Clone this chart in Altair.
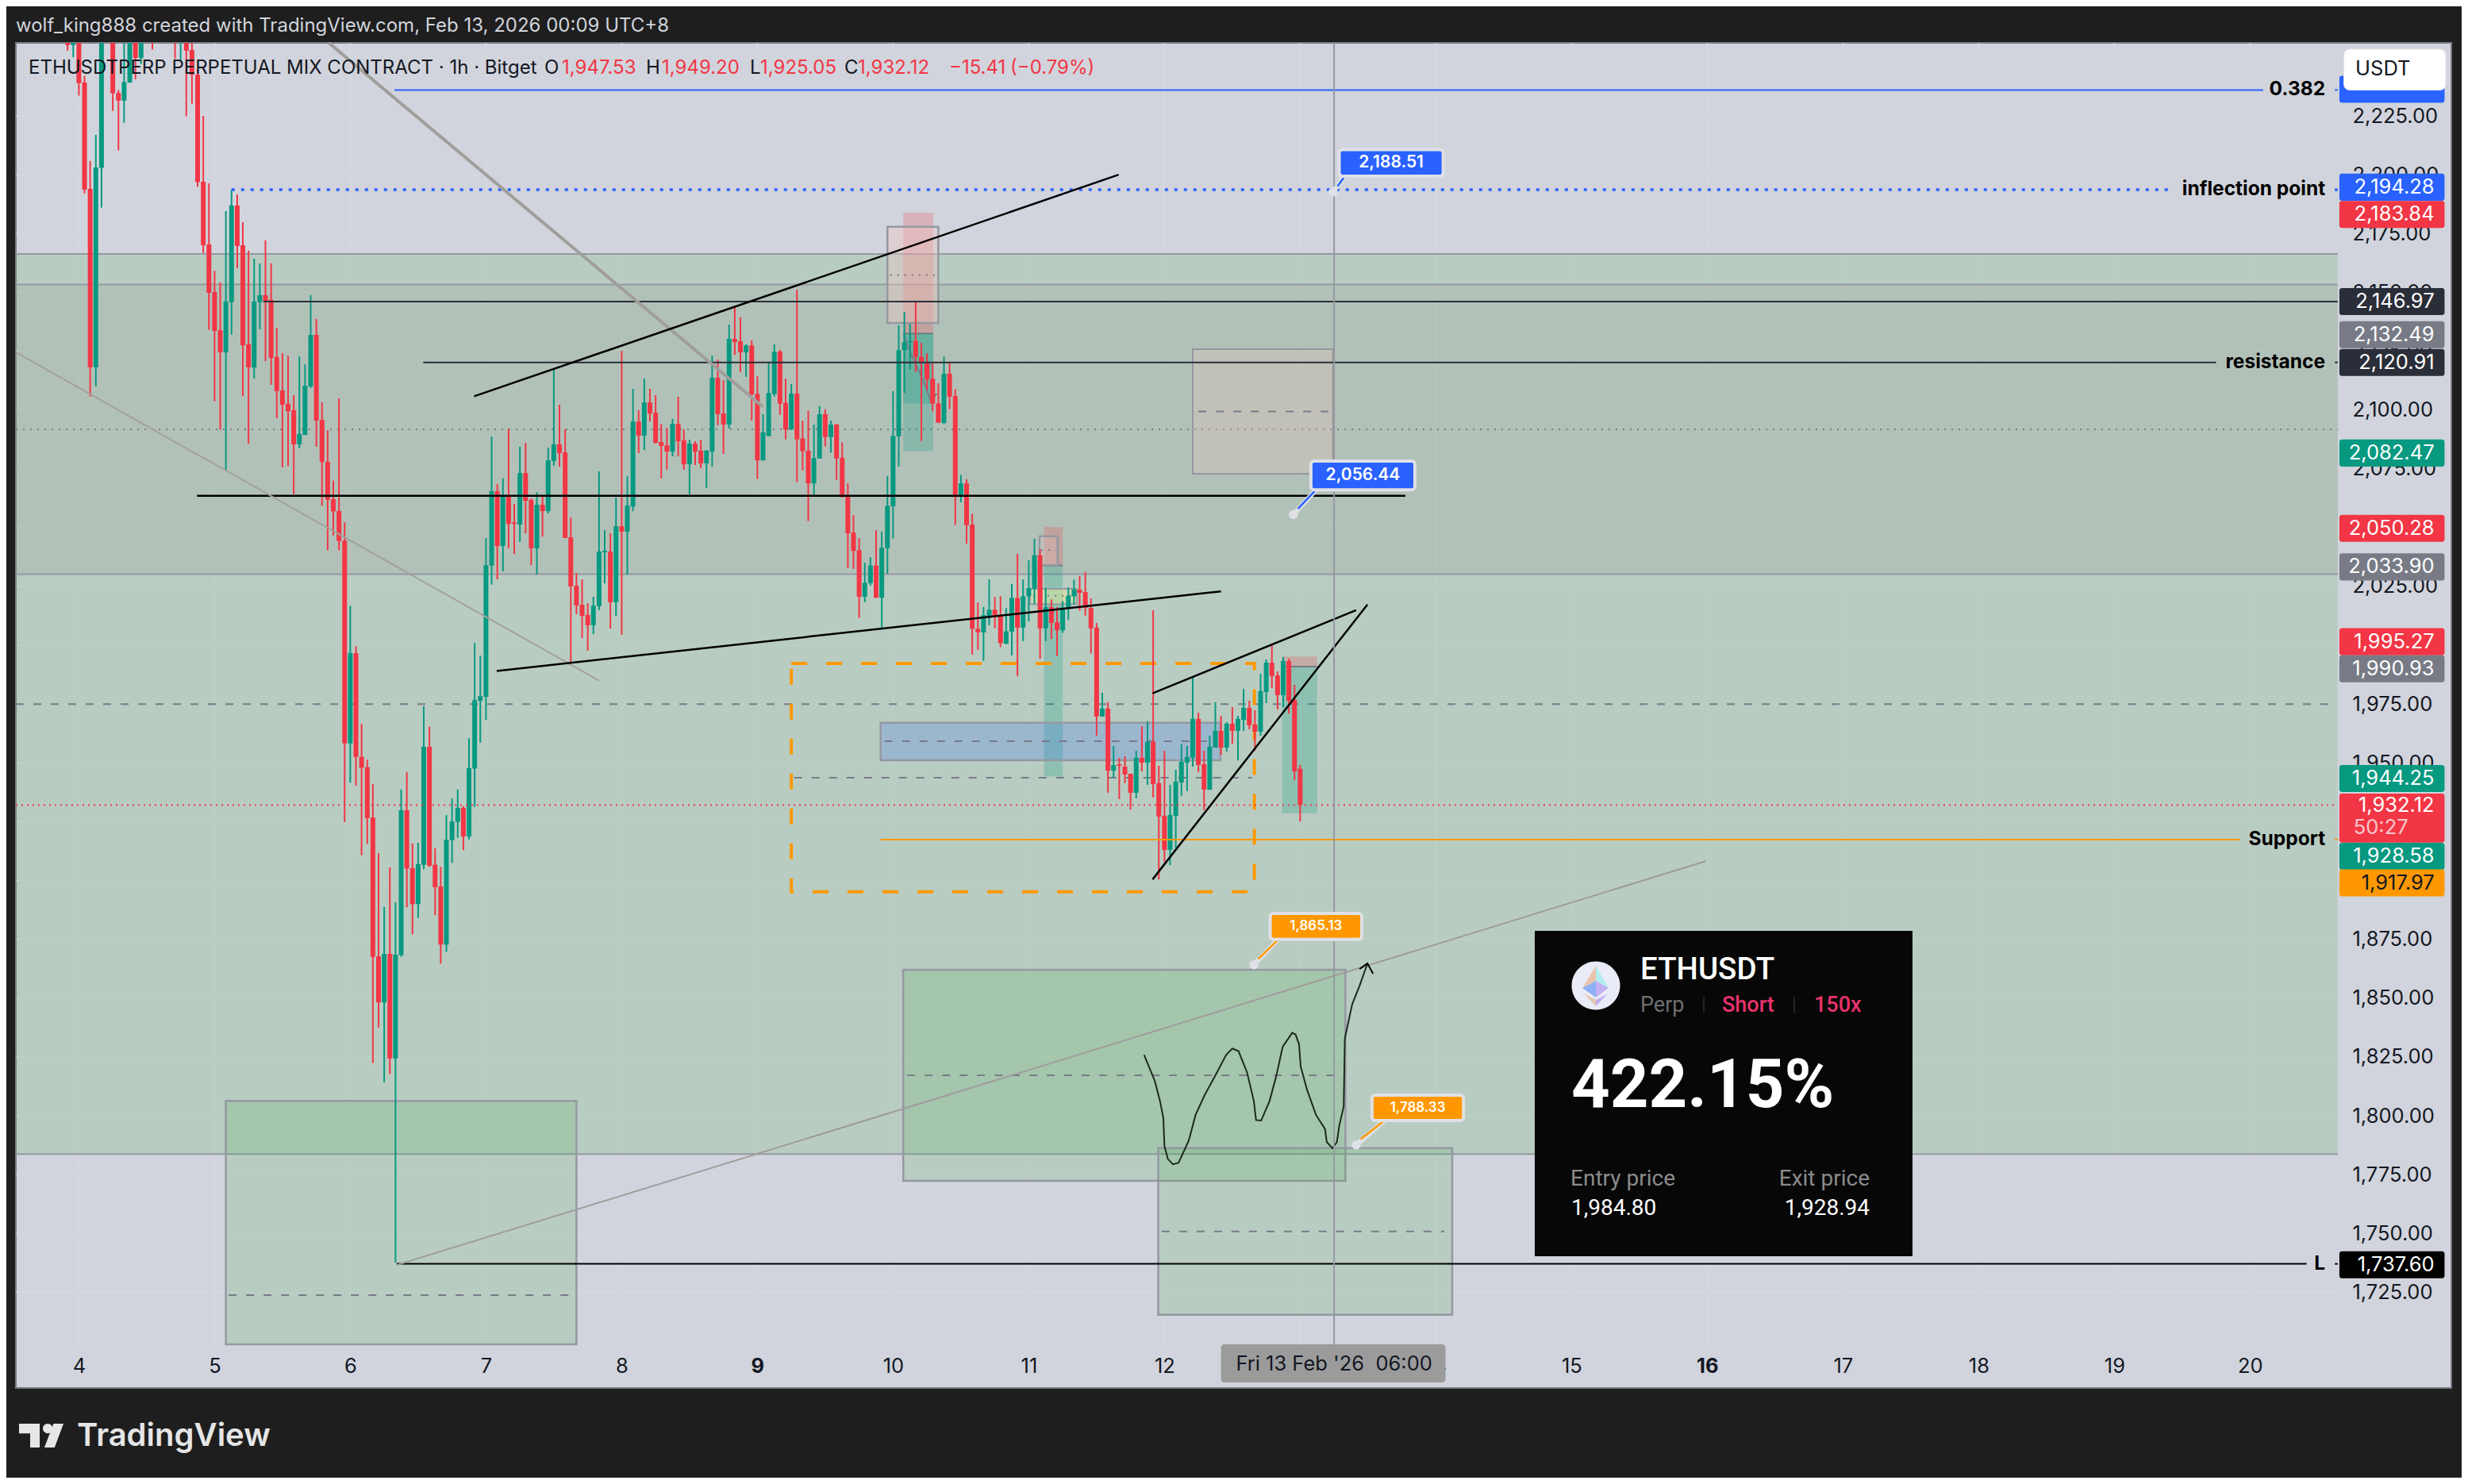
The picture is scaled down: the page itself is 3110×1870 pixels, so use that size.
import altair as alt
import pandas as pd

# hourly candles, first one is 2 hours before the "4" tick
first_hour = -2
open_ = [
    2262, 2255.1, 2262, 2239.2, 2194.0, 2118.2, 2202.9, 2275, 2268, 2234.7,
    2231.5, 2239.2, 2262, 2249.6, 2268, 2270, 2272, 2266, 2270, 2270,
    2260, 2266, 2253, 2242.5, 2197, 2170.4, 2150.1, 2133.9, 2124.5, 2145.8,
    2186.9, 2170, 2127.9, 2118.1, 2145.8, 2148.8, 2146.8, 2122.5, 2108.3, 2102.6,
    2099.9, 2085.4, 2089.4, 2110, 2131.9, 2095.8, 2077.9, 2062.1, 2057.1, 2044.5,
    1958.3, 1996.7, 1952.6, 1948.2, 1926.8, 1867.8, 1848.2, 1868.8, 1824.4, 1868.3,
    1929.9, 1905.3, 1890, 1906.7, 1956.9, 1906.7, 1897.5, 1872.8, 1917.2, 1924.9,
    1930.9, 1918.7, 1947.6, 1976.4, 1978.1, 2033.9, 2065.5, 2042.2, 2063.1, 2052.2,
    2051.3, 2073.2, 2061.8, 2041.2, 2059.7, 2057, 2078.3, 2085.4, 2082, 2045.9,
    2025.3, 2017.2, 2012.9, 2008.5, 2016.6, 2039.5, 2039.8, 2018.3, 2050.6, 2048.3,
    2059, 2095.1, 2089.1, 2103.2, 2098.9, 2086.4, 2085, 2082.3, 2094.1, 2087.1,
    2076.9, 2085.7, 2082.7, 2077.3, 2082.3, 2113.7, 2098.5, 2093.8, 2130.2, 2129.2,
    2124.5, 2127.4, 2106.8, 2078.6, 2088.9, 2106.8, 2124.8, 2103, 2091.7, 2107,
    2087.9, 2082.7, 2068.8, 2079.4, 2098.2, 2088.5, 2093.8, 2079.7, 2063.3, 2047.9,
    2040.4, 2020.6, 2026.4, 2033.9, 2020.2, 2041.2, 2059.1, 2088.8, 2125.4, 2128.8,
    2129.4, 2122.6, 2120.3, 2113.3, 2102.8, 2094.5, 2115.4, 2105.9, 2063.3, 2068.8,
    2051.3, 2007, 2005.5, 2012.4, 2015.1, 2012.4, 2000.7, 2005.8, 2020.1, 2007.5,
    2020.8, 2024.1, 2038.3, 2007.2, 2016.2, 2009.7, 2006.4, 2015.9, 2020.8, 2023.6,
    2022.6, 2015.9, 2007.5, 1969.7, 1973.1, 1946.7, 1949.4, 1948.4, 1945.4, 1937.3,
    1952.2, 1950.1, 1958.9, 1941.4, 1927.5, 1913, 1927.5, 1941.7, 1950.1, 1952.2,
    1968.7, 1949.4, 1938.6, 1956.5, 1963.6, 1956.5, 1966.7, 1963.6, 1968.3, 1973.4,
    1966.3, 1963.3, 1980.1, 1992.6, 1987.2, 1978.8, 1993.3, 1976.8, 1947.53,
]
high = [
    2270, 2272, 2270, 2242, 2205.8, 2216.9, 2270, 2280, 2275, 2236,
    2256.5, 2268, 2266, 2268, 2272, 2275, 2276, 2274, 2276, 2274,
    2272, 2270, 2256.5, 2244.8, 2225, 2196.3, 2159.2, 2154.2, 2184.5, 2193.6,
    2191.6, 2179.8, 2167.7, 2164.3, 2162.3, 2172.1, 2162.3, 2135, 2124.2, 2123.1,
    2106.3, 2122.8, 2119.4, 2148.8, 2138.7, 2103.3, 2091.4, 2070, 2104.9, 2052.3,
    2016.8, 1999.6, 1966.6, 1951.4, 1941.1, 1911.7, 1888.8, 1905.6, 1890.7, 1938.7,
    1946.1, 1915.8, 1916, 1974.1, 1965.4, 1913.7, 1905.8, 1927.8, 1934.9, 1938.7,
    1931.6, 1960.5, 2001, 1995.6, 2045.6, 2088.7, 2068.5, 2070.9, 2092, 2060.1,
    2084.4, 2086, 2062.4, 2065.1, 2063.1, 2084, 2117.4, 2102.2, 2091.8, 2054.3,
    2030.7, 2028, 2017.9, 2020.6, 2073.9, 2048.9, 2047.6, 2062.8, 2125.2, 2071.9,
    2109, 2099.9, 2113.4, 2109, 2106.3, 2094.1, 2092.4, 2096.2, 2105.6, 2091.8,
    2087.4, 2086.7, 2087.4, 2083, 2123.1, 2121.5, 2112.7, 2136.3, 2144, 2139.4,
    2127.9, 2129.6, 2114.3, 2098.2, 2120.4, 2127.9, 2125.6, 2113.3, 2111, 2151.1,
    2095.5, 2099.7, 2093.8, 2101.7, 2100.3, 2095.5, 2094.1, 2086.2, 2068.8, 2055.3,
    2045.5, 2035.1, 2037.4, 2048.9, 2048.3, 2071.9, 2108, 2136, 2141.7, 2136.7,
    2146.3, 2128.5, 2124.1, 2120.4, 2111.4, 2122.7, 2120, 2108.9, 2072.4, 2070.6,
    2055.9, 2018.2, 2016.3, 2028, 2020.6, 2020.8, 2015.8, 2026.1, 2038.8, 2028,
    2036.1, 2045.3, 2040.8, 2024.4, 2019.5, 2016.2, 2018.8, 2024.6, 2027.9, 2029.4,
    2031.1, 2019.9, 2009.5, 1979.8, 1975.8, 1957.2, 1952.1, 1952.8, 1945.4, 1955.2,
    1965.6, 1967.7, 2014.9, 1948.8, 1955.2, 1940.7, 1947.1, 1957.9, 1957.2, 1986.5,
    1971.4, 1955.2, 1961.6, 1975.8, 1970, 1967.3, 1973.7, 1970, 1981.5, 1976.4,
    1972.4, 1987.9, 1994, 2000, 1988.9, 1995, 1994.3, 1983.2, 1949.2,
]
low = [
    2252.7, 2249.9, 2233.6, 2192, 2105.7, 2110.1, 2186, 2258, 2227.1, 2210.3,
    2222.1, 2239, 2240.6, 2247, 2258, 2253.2, 2260, 2260, 2258, 2249.3,
    2248.7, 2224.8, 2230.2, 2194.8, 2166.7, 2134.1, 2103.7, 2091.6, 2074.5, 2132,
    2160.3, 2105.9, 2085.7, 2113.4, 2134.3, 2120.8, 2110.7, 2096.5, 2075.6, 2076.2,
    2064.1, 2083.7, 2089.4, 2109.3, 2084.4, 2059.3, 2040.4, 2046.6, 2040.4, 1924.8,
    1941.6, 1940.4, 1910.8, 1915.6, 1822.5, 1837.5, 1814.3, 1817.7, 1737.6, 1867.6,
    1888.6, 1877.1, 1884.1, 1904.8, 1905.8, 1885.3, 1864.7, 1869.7, 1907.5, 1918.2,
    1912.9, 1917.5, 1931.3, 1958.6, 1968.3, 2025.8, 2028, 2031.4, 2041.2, 2038.8,
    2043.9, 2047.6, 2034.1, 2030.1, 2046.2, 2056, 2076.3, 2075.9, 2045.6, 1992.6,
    2013.2, 2003.1, 1997.7, 2004.8, 2014.9, 2026.3, 2007.1, 2012.5, 2004.4, 2030,
    2057, 2081.7, 2083, 2095.1, 2085.7, 2070.9, 2074.6, 2080.3, 2080.3, 2074.6,
    2064.1, 2076.6, 2075.2, 2066.8, 2075.9, 2093.5, 2081.3, 2092.1, 2123.4, 2116.1,
    2114.1, 2095.5, 2070.7, 2078.5, 2088.9, 2105.7, 2097.9, 2087.5, 2091.5, 2069.4,
    2074.3, 2052.8, 2063.7, 2079.4, 2084.5, 2081.9, 2070.3, 2062.7, 2032.9, 2032.5,
    2011.6, 2018.3, 2025.3, 2020.2, 2006.7, 2030.4, 2045.4, 2076, 2107.2, 2117.2,
    2116.1, 2086.8, 2108.5, 2099.4, 2094.6, 2093.9, 2100.3, 2051.1, 2060.8, 2043.2,
    1996, 1998, 1993.4, 2008.5, 2007.2, 1999.2, 2000.4, 1995.7, 1986.9, 2001.8,
    2010.2, 2017.5, 1994.3, 2001.8, 2002.7, 1995.5, 2005.3, 2010.8, 2017.4, 2014.7,
    2012.6, 1996.5, 1961.6, 1969.7, 1937.3, 1943.7, 1934.6, 1941.4, 1930.2, 1935,
    1946.4, 1940.7, 1935.3, 1900.5, 1908, 1906.6, 1913.7, 1936, 1938, 1948.4,
    1946.1, 1929.9, 1938.6, 1956.5, 1953.5, 1954.8, 1958.2, 1951.1, 1963.6, 1964.3,
    1955.2, 1961.6, 1975.4, 1981.8, 1972.7, 1973.7, 1971, 1942.7, 1925.05,
]
close = [
    2255.1, 2268, 2238.9, 2193.6, 2118.2, 2203.1, 2262, 2262, 2234.6, 2231.5,
    2239.4, 2262, 2249.6, 2262, 2262, 2262, 2266, 2270, 2264, 2262,
    2266, 2252.7, 2242.5, 2196.8, 2170, 2149.8, 2133.6, 2124.5, 2146.1, 2186.9,
    2169.7, 2127.5, 2118.1, 2146.1, 2148.8, 2146.4, 2122.1, 2108, 2102.2, 2099.5,
    2085.4, 2089.8, 2110.3, 2131.9, 2095.5, 2077.9, 2061.9, 2056.9, 2044.3, 1958.3,
    1996.7, 1952.6, 1948, 1926.5, 1867.6, 1848.2, 1868.8, 1824.4, 1868.5, 1929.9,
    1905.1, 1890, 1907, 1956.9, 1906.3, 1897.2, 1872.8, 1917.3, 1925.1, 1930.9,
    1918.7, 1947.8, 1976.7, 1978.4, 2034, 2065.5, 2042.2, 2063.1, 2051.6, 2051.6,
    2073.2, 2061.4, 2041.2, 2059.7, 2057, 2078.6, 2085.4, 2081.7, 2045.6, 2025,
    2016.9, 2012.5, 2008.5, 2016.9, 2039.8, 2040.2, 2018.3, 2050.6, 2048.3, 2059.4,
    2095.1, 2089.1, 2103.2, 2098.5, 2086, 2084.7, 2082.3, 2094.1, 2086.7, 2076.9,
    2085.7, 2082.3, 2077.3, 2082.7, 2113.7, 2098.2, 2093.8, 2130.2, 2128.9, 2124.5,
    2127.4, 2106.6, 2078.6, 2090.5, 2107.2, 2124.8, 2102.7, 2091.7, 2107, 2087.5,
    2082.5, 2068.8, 2079.6, 2098.2, 2088.5, 2093.8, 2079.4, 2063.3, 2047.6, 2040.1,
    2020.6, 2026.6, 2033.9, 2020.2, 2041.4, 2059.3, 2089, 2125.4, 2128.8, 2129.3,
    2122.6, 2120, 2113, 2102.7, 2094.6, 2115.4, 2105.6, 2063, 2068.8, 2051.1,
    2007, 2005.5, 2012.8, 2015.1, 2012, 2000.9, 2005.9, 2020.1, 2007.5, 2020.8,
    2024.3, 2038.3, 2007.2, 2016.2, 2009.5, 2006.4, 2016.1, 2021, 2023.6, 2022.3,
    2015.9, 2007.2, 1969.7, 1973.1, 1946.7, 1949.1, 1948.8, 1945.1, 1937.3, 1952.2,
    1950.1, 1958.9, 1941, 1927.2, 1913, 1927.9, 1942, 1950.5, 1952.5, 1968.7,
    1949.1, 1938.6, 1956.9, 1963.6, 1956.5, 1966.7, 1963.6, 1968.7, 1973.4, 1966,
    1963.3, 1980.5, 1992.6, 1986.9, 1978.8, 1993.3, 1976.4, 1946.4, 1932.12,
]

price_ticks = [1725 + 25 * i for i in range(21)]
day_ticks = [24 * i for i in range(17)]
bold_days = [120, 288]

# price tags on the scale: text, where the tag sits, colour, text colour
tag_text = ["2,194.28", "2,183.84", "2,146.97", "2,132.49", "2,120.91", "2,082.47",
            "2,050.28", "2,033.90", "1,995.27", "1,990.93", "1,944.25", "1,928.58", "1,917.97", "1,737.60"]
tag_price = [2194.7, 2183.1, 2146.1, 2132.0, 2120.2, 2081.7,
             2049.7, 2033.3, 2001.5, 1990.0, 1943.4, 1910.3, 1899.0, 1736.7]
tag_color = ["#2962ff", "#f23645", "#2a2e39", "#787b86", "#2a2e39", "#089981",
             "#f23645", "#787b86", "#f23645", "#787b86", "#089981", "#089981", "#ff9800", "#000000"]
tag_ink = ["#ffffff"] * 12 + ["#131722", "#ffffff"]

# hand drawn path under the rising line
path_h = [188.4, 190.3, 191.2, 191.8, 192.0, 192.6, 193.5, 194.5, 196.3, 197.5, 199.1, 201.3, 202.9,
          204.0, 205.1, 206.6, 207.8, 208.2, 209.1, 210.6, 211.8, 212.9, 214.6, 215.2, 215.8, 216.1,
          217.2, 218.8, 220.4, 220.7, 221.7, 222.5, 222.9, 223.7, 223.9, 225.2, 226.5, 227.9]
path_p = [1825.9, 1814.8, 1806.4, 1799.2, 1787.1, 1781.7, 1779.4, 1780.1, 1789.5, 1800.4, 1808.8, 1818.5, 1825.9,
          1828.6, 1827.5, 1818.5, 1806.4, 1798.2, 1798.0, 1806.4, 1817.2, 1829.3, 1835.3, 1834.5, 1830.5, 1820.9,
          1811.2, 1800.4, 1794.4, 1788.9, 1786.2, 1788.9, 1795.6, 1804.0, 1832.9, 1847.4, 1855.2, 1864.8]
arrow_h = [226.5, 227.9, 228.9]
arrow_p = [1862.4, 1864.8, 1860.4]
zigzag_h = [145.9, 147.2, 148.4, 149.9, 150.7, 151.7]
zigzag_p = [2131.7, 2123.5, 2117.5, 2109.2, 2103.3, 2107.0]

RED = "#f23645"
GREEN = "#089981"
BLUE = "#2962ff"
ORANGE = "#ff9800"
PANE = "#d1d4dc"
EDGE = "#9598a1"
MID = "#787b86"
INK = "#131722"
DARK = "#2a2e39"
FONT = "Inter"
SCALE_FONT = 25.5

# plot area spans the whole TradingView frame, price strip and time strip included
H_MIN, H_MAX = -11.144, 419.6
P_MIN, P_MAX = 1684.35, 2256.03
PANE_END = 399.5
TIME_TOP = 1702.9
xs = alt.Scale(domain=[H_MIN, H_MAX], nice=False, zero=False)
ys = alt.Scale(domain=[P_MIN, P_MAX], nice=False, zero=False)
X = alt.X("x:Q", scale=xs, axis=None)
Y = alt.Y("y:Q", scale=ys, axis=None)


def seg(h1, h2, p1, p2=None, **mark):
    p2 = p1 if p2 is None else p2
    df = pd.DataFrame({"x": [h1], "x2": [h2], "y": [p1], "y2": [p2]})
    return alt.Chart(df).mark_rule(**mark).encode(x=X, x2="x2:Q", y=Y, y2="y2:Q")


def box(h1, h2, p1, p2, **mark):
    df = pd.DataFrame({"x": [h1], "x2": [h2], "y": [p1], "y2": [p2]})
    return alt.Chart(df).mark_rect(**mark).encode(x=X, x2="x2:Q", y=Y, y2="y2:Q")


def poly(hs, ps, **mark):
    df = pd.DataFrame({"x": hs, "y": ps, "i": range(len(hs))})
    return alt.Chart(df).mark_line(**mark).encode(x=X, y=Y, order="i:Q")


def dot(h, p, **mark):
    df = pd.DataFrame({"x": [h], "y": [p]})
    return alt.Chart(df).mark_point(filled=True, opacity=1, **mark).encode(x=X, y=Y)


def label(text, h, p, **mark):
    mark.setdefault("font", FONT)
    mark.setdefault("baseline", "middle")
    df = pd.DataFrame({"x": [h], "y": [p], "t": [text]})
    return alt.Chart(df).mark_text(**mark).encode(x=X, y=Y, text="t:N")


def page_text(text, px, py, **mark):
    # for the header, footer and trade card, given in page pixels
    mark.setdefault("font", FONT)
    mark.setdefault("baseline", "middle")
    mark.setdefault("align", "left")
    df = pd.DataFrame({"t": [text]})
    return alt.Chart(df).mark_text(**mark).encode(
        x=alt.value(px - 20), y=alt.value(py - 54), text="t:N")


def page_shape(path, px, py, scale, color):
    df = pd.DataFrame({"t": [0]})
    return alt.Chart(df).mark_point(
        shape=path, filled=True, opacity=1, color=color, size=(2 * scale) ** 2, strokeWidth=0,
    ).encode(x=alt.value(px - 20), y=alt.value(py - 54))


def page_box(x1, x2, y1, y2, **mark):
    df = pd.DataFrame({"t": [0]})
    return alt.Chart(df).mark_rect(**mark).encode(
        x=alt.value(x1 - 20), x2=alt.value(x2 - 20), y=alt.value(y1 - 54), y2=alt.value(y2 - 54))


hours = [first_hour + i for i in range(len(open_))]
candles = pd.DataFrame({"h": hours, "o": open_, "hi": high, "lo": low, "c": close})
up = alt.condition("datum.c >= datum.o", alt.value(GREEN), alt.value(RED))
cx = alt.X("h:Q", scale=xs, axis=None)

layers = []

# axes live on an invisible layer, strips share the pane colour so nothing covers the labels
axis_df = pd.DataFrame({"h": [0], "p": [2000]})
layers.append(alt.Chart(axis_df).mark_point(opacity=0).encode(
    x=alt.X("h:Q", scale=xs, axis=alt.Axis(
        orient="bottom", values=day_ticks, title=None, domain=False, ticks=False, grid=False,
        offset=-55, labelPadding=15, labelFont=FONT, labelFontSize=SCALE_FONT, labelColor=INK,
        labelExpr="datum.value / 24 + 4", labelOverlap=False, labelFlush=False,
        labelFontWeight={"condition": {"test": "datum.value == 120 || datum.value == 288", "value": "bold"},
                         "value": "normal"})),
    y=alt.Y("p:Q", scale=ys, axis=alt.Axis(
        orient="right", values=price_ticks, format=",.2f", title=None, domain=False, ticks=False, grid=False,
        offset=-125, labelPadding=0, labelFont=FONT, labelFontSize=SCALE_FONT, labelColor=INK,
        labelOverlap=False, labelFlush=False, labelLimit=0)),
))

# faint grid, only inside the pane
for d in day_ticks:
    layers.append(seg(d, d, TIME_TOP, P_MAX, color="#d8dae1", strokeWidth=1))
for t in price_ticks:
    layers.append(seg(H_MIN, PANE_END, t, color="#d8dae1", strokeWidth=1))

# big supply / demand zones
layers.append(box(H_MIN, PANE_END, 2166.3, 1783.8, fill="#54b15a", fillOpacity=0.2))
layers.append(box(H_MIN, PANE_END, 2153.3, 2030.2, fill="#9b9691", fillOpacity=0.2))
for p in [2166.3, 1783.8, 2153.3, 2030.2]:
    layers.append(seg(H_MIN, PANE_END, p, color=EDGE, strokeWidth=2))
layers.append(seg(H_MIN, PANE_END, 2091.8, color=MID, strokeWidth=2, strokeDash=[2, 7]))
layers.append(seg(H_MIN, 398, 1975, color=MID, strokeWidth=2, strokeDash=[10, 12]))

# green boxes
green_box = dict(fill="#54b15a", fillOpacity=0.2, stroke=EDGE, strokeWidth=2.5)
layers.append(box(26.0, 88.0, 1806.4, TIME_TOP, **green_box))
layers.append(seg(26.5, 87.5, 1723.8, color=MID, strokeWidth=2, strokeDash=[10, 12]))
layers.append(box(145.8, 224.0, 1862.1, 1772.4, **green_box))
layers.append(seg(146.5, 223.5, 1817.2, color=MID, strokeWidth=2, strokeDash=[10, 12]))
layers.append(box(190.9, 242.9, 1786.3, 1715.5, **green_box))
layers.append(seg(191.5, 241.5, 1750.9, color=MID, strokeWidth=2, strokeDash=[10, 12]))

# pink / teal position blocks
for h1, h2, top, entry, bottom in [(145.8, 151.1, 2183.84, 2132.49, 2082.47),
                                   (170.7, 174.0, 2050.28, 2033.90, 1944.25),
                                   (212.8, 219.0, 1995.27, 1990.93, 1928.58)]:
    layers.append(box(h1, h2, top, entry, fill=RED, fillOpacity=0.22))
    layers.append(box(h1, h2, entry, bottom, fill=GREEN, fillOpacity=0.24))
    layers.append(seg(h1, h2, entry, color=MID, strokeWidth=2))
layers.append(box(145.8, 151.1, 2132.49, 2102.7, fill=GREEN, fillOpacity=0.25))
layers.append(poly(zigzag_h, zigzag_p, color=MID, strokeWidth=2))

# small grey order blocks
layers.append(box(143.0, 152.0, 2177.9, 2137.0, fill="#efc9c2", fillOpacity=0.4, stroke=EDGE, strokeWidth=2.5))
layers.append(seg(143.5, 151.5, 2157.3, color=MID, strokeWidth=2, strokeDash=[2, 7]))
layers.append(box(197.0, 221.8, 2125.8, 2072.9, fill="#e8c3b8", fillOpacity=0.3, stroke=EDGE, strokeWidth=2))
layers.append(seg(198, 221, 2099.4, color=MID, strokeWidth=2, strokeDash=[10, 12]))
layers.append(box(169.9, 173.1, 2046.3, 2034.0, fill="#f0c9c2", fillOpacity=0.25, stroke=EDGE, strokeWidth=2.5))
layers.append(seg(170.2, 172.8, 2040.4, color=MID, strokeWidth=2, strokeDash=[2, 7]))
layers.append(box(168.2, 176.5, 2024.0, 2017.5, fill="#e3e79a", fillOpacity=0.5, stroke=EDGE, strokeWidth=2))
layers.append(seg(168.8, 176, 2021.0, color=MID, strokeWidth=2, strokeDash=[2, 7]))

# blue range and dashed orange box
layers.append(box(141.8, 201.9, 1967.1, 1951.1, fill=BLUE, fillOpacity=0.2, stroke=EDGE, strokeWidth=2.5))
layers.append(seg(142.5, 201, 1959.2, color=MID, strokeWidth=2, strokeDash=[10, 12]))
layers.append(box(126.0, 207.9, 1992.3, 1895.2, fillOpacity=0, stroke=ORANGE, strokeWidth=4, strokeDash=[20, 24]))
layers.append(seg(126.5, 207.5, 1943.75, color=MID, strokeWidth=2, strokeDash=[10, 12]))

# candles
layers.append(alt.Chart(candles).mark_rule(strokeWidth=2, clip=True).encode(
    x=cx, y=alt.Y("hi:Q", scale=ys, axis=None), y2="lo:Q", color=up))
layers.append(alt.Chart(candles).mark_rule(strokeWidth=6, clip=True).encode(
    x=cx, y=alt.Y("o:Q", scale=ys, axis=None), y2="c:Q", color=up))

# horizontal levels, each cut where its label sits
layers.append(seg(55.8, 386.3, 2236.0, color=BLUE, strokeWidth=2))
layers.append(seg(399.0, PANE_END, 2236.0, color=BLUE, strokeWidth=2))
layers.append(seg(27.0, 369.6, 2193.6, color=BLUE, strokeWidth=3.5, strokeDash=[4, 8]))
layers.append(seg(399.0, PANE_END, 2193.6, color=BLUE, strokeWidth=3.5, strokeDash=[4, 8]))
layers.append(seg(32.6, PANE_END, 2146.1, color=DARK, strokeWidth=2))
layers.append(seg(60.9, 378.0, 2120.2, color=DARK, strokeWidth=2))
layers.append(seg(399.0, PANE_END, 2120.2, color=DARK, strokeWidth=2))
layers.append(seg(20.9, 234.6, 2063.5, color="#000000", strokeWidth=2.5))
layers.append(seg(56.2, 394.0, 1737.1, color="#000000", strokeWidth=2))
layers.append(seg(399.0, PANE_END, 1737.1, color="#000000", strokeWidth=2))
layers.append(seg(141.8, 382.3, 1917.4, color=ORANGE, strokeWidth=2))
layers.append(seg(399.0, PANE_END, 1917.4, color=ORANGE, strokeWidth=2))
layers.append(seg(H_MIN, PANE_END, 1932.12, color=RED, strokeWidth=2, strokeDash=[2, 5]))

# trend lines
layers.append(seg(44.2, 121.0, 2256.0, 2101.3, color="#a09e9b", strokeWidth=4))
layers.append(seg(H_MIN, 92.0, 2124.5, 1985.0, color="#a3a19d", strokeWidth=2))
layers.append(seg(56.2, 287.8, 1736.6, 1908.3, color="#a09c9c", strokeWidth=2))
layers.append(seg(69.9, 183.9, 2105.8, 2200.0, color="#000000", strokeWidth=2.5))
layers.append(seg(73.9, 202.0, 1989.1, 2022.9, color="#000000", strokeWidth=2.5))
layers.append(seg(189.9, 227.9, 1900.5, 2017.3, color="#000000", strokeWidth=2.5))
layers.append(seg(189.9, 225.9, 1979.6, 2014.9, color="#000000", strokeWidth=2.5))

# hand drawn double bottom
layers.append(poly(path_h, path_p, color="#1b2a1c", strokeWidth=2))
layers.append(poly(arrow_h, arrow_p, color="#000000", strokeWidth=2))

# crosshair
layers.append(seg(222.0, 222.0, TIME_TOP, P_MAX, color=EDGE, strokeWidth=2))

# price callouts
for top_h, bot_h, p1, p2, ah, ap, th, tp, fill, size, txt in [
    (222.9, 241.3, 2210.7, 2199.4, 221.8, 2192.6, 223.9, 2199.4, BLUE, 21, "2,188.51"),
    (217.9, 236.3, 2078.3, 2066.1, 214.8, 2055.5, 218.8, 2066.1, BLUE, 21, "2,056.44"),
    (210.7, 226.9, 1886.0, 1875.0, 207.8, 1864.2, 212.0, 1874.6, ORANGE, 17, "1,865.13"),
    (228.7, 244.9, 1808.8, 1798.0, 225.9, 1787.6, 230.9, 1798.0, ORANGE, 17, "1,788.33"),
]:
    layers.append(seg(ah, th, ap, tp, color="#dfe1e6", strokeWidth=6))
    layers.append(seg(ah + 0.8, th, ap + 2.5, tp, color=fill, strokeWidth=2.5))
    layers.append(dot(ah, ap, color="#dfe1e6", size=130))
    layers.append(box(top_h, bot_h, p1, p2, fill=fill, stroke="#dfe1e6", strokeWidth=4, cornerRadius=4))
    layers.append(label(txt, (top_h + bot_h) / 2, (p1 + p2) / 2, color="#ffffff", fontSize=size,
                        fontWeight=600, align="center"))

# time label over the crosshair
layers.append(box(202.0, 241.7, TIME_TOP, 1686.7, fill="#9b9b9b", cornerRadius=4))
layers.append(label("Fri 13 Feb '26\u00a0\u00a006:00", 222.0, 1694.4, color=INK, fontSize=SCALE_FONT, align="center"))

# level names
for txt, p in [("0.382", 2236.0), ("inflection point", 2193.6), ("resistance", 2120.2),
               ("Support", 1917.4), ("L", 1737.1)]:
    layers.append(label(txt, 397.3, p, color="#000000", fontSize=24.5, fontWeight="bold", align="right"))

# tags on the price scale
for txt, p, col, ink in zip(tag_text, tag_price, tag_color, tag_ink):
    layers.append(box(399.8, 418.4, p + 5.75, p - 5.75, fill=col, cornerRadius=3))
    layers.append(label(txt, 416.6, p, color=ink, fontSize=SCALE_FONT, align="right"))
layers.append(box(399.8, 418.4, 1937.0, 1916.1, fill=RED, cornerRadius=3))
layers.append(label("1,932.12", 416.6, 1931.8, color="#ffffff", fontSize=SCALE_FONT, align="right"))
layers.append(label("50:27", 402.3, 1922.4, color="#f9c6cb", fontSize=SCALE_FONT, align="left"))

# 0.382 tag, mostly under the currency button
layers.append(box(399.8, 418.4, 2242.0, 2230.6, fill=BLUE, cornerRadius=3))

# currency button
layers.append(box(400.6, 418.6, 2253.3, 2236.0, fill="#ffffff", stroke="#e8e9ee", strokeWidth=1, cornerRadius=7))
layers.append(label("USDT", 407.5, 2244.9, color=INK, fontSize=SCALE_FONT, align="center"))

# header line, legend
layers.append(page_text("wolf_king888 created with TradingView.com, Feb 13, 2026 00:09 UTC+8", 20, 33,
                        color=PANE, fontSize=24))
layers.append(page_text("ETHUSDTPERP PERPETUAL MIX CONTRACT \u00b7 1h \u00b7 Bitget", 36, 86, color=INK, fontSize=24))
for txt, px, col in [("O", 686, INK), ("1,947.53", 708, RED), ("H", 814, INK), ("1,949.20", 834, RED),
                     ("L", 945, INK), ("1,925.05", 958, RED), ("C", 1064, INK), ("1,932.12", 1081, RED),
                     ("\u221215.41", 1196, RED), ("(\u22120.79%)", 1273, RED)]:
    layers.append(page_text(txt, px, 86, color=col, fontSize=24))

# footer logo
layers.append(page_shape("M-1 -.54H-.07V.54H-.5V-.1H-1Z", 52, 1809, 28, "#e6e6e6"))
layers.append(page_shape("M.07 -.32a.22 .22 0 1 0 .44 0a.22 .22 0 1 0 -.44 0Z", 52, 1809, 28, "#e6e6e6"))
layers.append(page_shape("M.55 -.54H1L.6 .54H.14Z", 52, 1809, 28, "#e6e6e6"))
layers.append(page_text("TradingView", 97, 1810, color="#e6e6e6", fontSize=40, fontWeight=600))

# trade card pasted on the chart
layers.append(page_box(1934, 2410, 1173, 1583, fill="#070707"))
layers.append(page_shape("M-1 0a1 1 0 1 0 2 0a1 1 0 1 0 -2 0Z", 2011, 1242, 30.5, "#e9ecf6"))
for facet, col in [("M0 -.83L-.57 .1L0 -.2Z", "#e8c4ac"), ("M0 -.83L.53 .1L0 -.2Z", "#b0ecf0"),
                   ("M0 -.2L-.57 .1L0 .5Z", "#8fb0f5"), ("M0 -.2L.53 .1L0 .5Z", "#c3b0f2"),
                   ("M-.5 .33L0 .87L0 .6Z", "#e8c4ac"), ("M.5 .33L0 .87L0 .6Z", "#c3b0f2")]:
    layers.append(page_shape(facet, 2011, 1242, 30, col))
layers.append(page_text("ETHUSDT", 2067, 1222, font="Roboto", color="#ffffff", fontSize=38.5, fontWeight=500))
layers.append(page_text("Perp", 2067, 1267, font="Roboto", color="#6e6e70", fontSize=27))
layers.append(page_text("|", 2144, 1266, font="Roboto", color="#2a2a2a", fontSize=24))
layers.append(page_text("Short", 2170, 1267, font="Roboto", color="#e8336d", fontSize=27, fontWeight=500))
layers.append(page_text("|", 2258, 1266, font="Roboto", color="#2a2a2a", fontSize=24))
layers.append(page_text("150x", 2286, 1267, font="Roboto", color="#e8336d", fontSize=27, fontWeight=500))
layers.append(page_text("422.15%", 1980, 1369, font="Roboto", color="#ffffff", fontSize=85, fontWeight=700))
layers.append(page_text("Entry price", 1979, 1486, font="Roboto", color="#8a8a8a", fontSize=28))
layers.append(page_text("1,984.80", 1980, 1523, font="Roboto", color="#ffffff", fontSize=28))
layers.append(page_text("Exit price", 2356, 1486, font="Roboto", color="#8a8a8a", fontSize=28, align="right"))
layers.append(page_text("1,928.94", 2356, 1523, font="Roboto", color="#ffffff", fontSize=28, align="right"))

chart = alt.layer(*layers).resolve_axis(x="independent", y="independent").properties(
    width=3069,
    height=1695,
    background="#1e1e1e",
    padding={"left": 12, "top": 46, "right": 13, "bottom": 113},
    autosize=alt.AutoSizeParams(type="none"),
).configure_view(fill=PANE, stroke="#787b86", strokeWidth=2)

chart.save("out.html", embed_options={"renderer": "svg", "actions": False})
